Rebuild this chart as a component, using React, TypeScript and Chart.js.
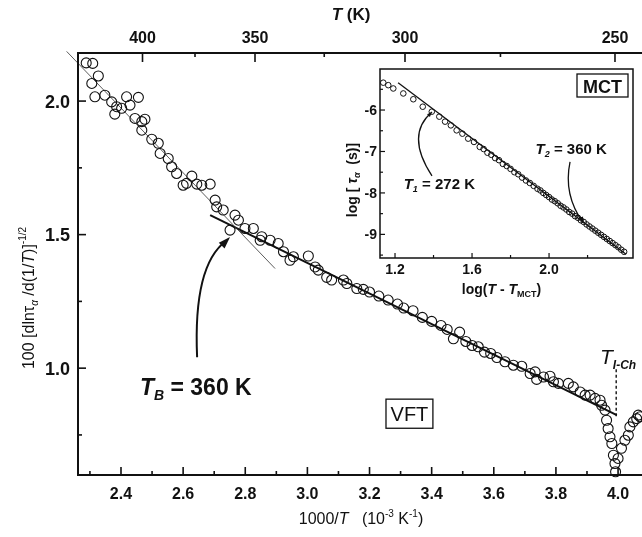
import React, { useEffect, useRef } from "react";
import { Chart, registerables } from "chart.js";
Chart.register(...registerables);

const FONT = '"Liberation Sans", Arial, Helvetica, sans-serif';
const INK = "#111";

// ---- main panel: x = 1000/T (10^-3 K^-1), y = 100 [dln tau / d(1/T)]^-1/2
const inverseT = [
  2.288, 2.306, 2.309, 2.316, 2.327, 2.348, 2.37, 2.38, 2.386, 2.402, 2.418, 2.429, 2.445, 2.456,
  2.467, 2.467, 2.477, 2.499, 2.52, 2.526, 2.552, 2.563, 2.579, 2.6, 2.611, 2.628, 2.644, 2.66,
  2.687, 2.703, 2.708, 2.729, 2.751, 2.767, 2.778, 2.799, 2.826, 2.848, 2.853, 2.88, 2.906, 2.923,
  2.944, 2.955, 3.003, 3.025, 3.035, 3.062, 3.078, 3.116, 3.127, 3.159,
  3.18, 3.2, 3.23, 3.26, 3.29, 3.31, 3.34, 3.37, 3.4, 3.43, 3.45, 3.47, 3.49, 3.51, 3.53, 3.55,
  3.57, 3.59, 3.61,
  3.636, 3.663, 3.69, 3.717, 3.733, 3.738, 3.76, 3.781, 3.792, 3.808, 3.84, 3.856, 3.878, 3.894,
  3.91, 3.926, 3.942, 3.947, 3.958, 3.963, 3.968, 3.974, 3.98, 3.985, 3.99, 3.992, 4.0, 4.011,
  4.022, 4.033, 4.038, 4.049, 4.06, 4.065, 4.071,
];
const derivative = [
  2.143, 2.066, 2.141, 2.016, 2.094, 2.022, 1.997, 1.951, 1.979, 1.973, 2.016, 1.985, 1.935, 2.014,
  1.923, 1.891, 1.932, 1.857, 1.842, 1.804, 1.785, 1.754, 1.729, 1.685, 1.692, 1.719, 1.689, 1.685,
  1.689, 1.629, 1.604, 1.592, 1.517, 1.573, 1.554, 1.523, 1.523, 1.479, 1.492, 1.479, 1.467, 1.436,
  1.404, 1.417, 1.42, 1.379, 1.367, 1.34, 1.33, 1.33, 1.317, 1.298,
  1.295, 1.285, 1.27, 1.255, 1.24, 1.225, 1.215, 1.19, 1.175, 1.16, 1.145, 1.11, 1.135, 1.1, 1.085, 1.08,
  1.06, 1.055, 1.04,
  1.024, 1.011, 1.007, 0.98, 0.986, 0.958, 0.967, 0.97, 0.949, 0.943, 0.943, 0.93, 0.911, 0.899,
  0.899, 0.887, 0.88, 0.861, 0.843, 0.805, 0.774, 0.743, 0.718, 0.674, 0.643, 0.612, 0.662, 0.7,
  0.73, 0.749, 0.78, 0.799, 0.811, 0.824, 0.818,
];

const fitHighX = [2.225, 2.896];
const fitHighY = [2.186, 1.373];
const fitLowX = [2.687, 3.996];
const fitLowY = [1.573, 0.824];

const bottomMajor = [2.4, 2.6, 2.8, 3.0, 3.2, 3.4, 3.6, 3.8, 4.0];
const bottomMinor = [2.3, 2.5, 2.7, 2.9, 3.1, 3.3, 3.5, 3.7, 3.9, 4.1];
const leftMajor = [1.0, 1.5, 2.0];
const leftMinor = [0.75, 1.25, 1.75];
const topMajorK = [400, 350, 300, 250];
const topMinorK = [375, 325, 275];

// ---- inset: x = log(T - T_MCT), y = log tau_alpha (s)
const insetLogX = [
  1.139, 1.165, 1.191, 1.243, 1.295, 1.344, 1.391, 1.43, 1.46, 1.49, 1.52, 1.55, 1.58, 1.61, 1.64,
  1.66, 1.68, 1.7, 1.72, 1.74, 1.76, 1.78, 1.8, 1.82, 1.84, 1.86, 1.88, 1.9, 1.92, 1.94, 1.955, 1.97,
  1.985, 2.0, 2.015, 2.03, 2.045, 2.06, 2.075, 2.09, 2.105, 2.12, 2.135, 2.15, 2.165, 2.18, 2.195,
  2.21, 2.225, 2.24, 2.255, 2.27, 2.285, 2.3, 2.315, 2.33, 2.345, 2.36, 2.375, 2.39,
];
const insetLogTau = [
  -5.34, -5.4, -5.48, -5.6, -5.74, -5.92, -6.04, -6.16, -6.28, -6.37, -6.49, -6.57, -6.69, -6.77, -6.89,
  -6.94, -7.03, -7.08, -7.16, -7.21, -7.3, -7.35, -7.42, -7.5, -7.55, -7.63, -7.7, -7.76, -7.83, -7.9, -7.94, -8.0,
  -8.05, -8.1, -8.16, -8.2, -8.25, -8.31, -8.35, -8.4, -8.46, -8.5, -8.56, -8.6, -8.66, -8.7, -8.76,
  -8.81, -8.86, -8.91, -8.96, -9.01, -9.06, -9.11, -9.16, -9.21, -9.26, -9.31, -9.37, -9.42,
];
const insetFitX = [1.216, 2.4];
const insetFitY = [-5.342, -9.478];
const insetXMajor = [1.2, 1.6, 2.0];
const insetXMinor = [1.4, 1.8, 2.2];
const insetYMajor = [-6, -7, -8, -9];
const insetYMinor = [-5.5, -6.5, -7.5, -8.5, -9.5];

type Part = { t: string; size: number; bold?: boolean; italic?: boolean; dy?: number };

function fontOf(p: Part) {
  return `${p.italic ? "italic " : ""}${p.bold ? "bold " : ""}${p.size}px ${FONT}`;
}

function rich(ctx: CanvasRenderingContext2D, x: number, y: number, parts: Part[], align = "left") {
  let total = 0;
  const ws = parts.map((p) => {
    ctx.font = fontOf(p);
    const w = ctx.measureText(p.t).width;
    total += w;
    return w;
  });
  let cx = align === "left" ? x : align === "center" ? x - total / 2 : x - total;
  ctx.textAlign = "left";
  ctx.textBaseline = "alphabetic";
  parts.forEach((p, i) => {
    ctx.font = fontOf(p);
    ctx.fillText(p.t, cx, y + (p.dy || 0));
    cx += ws[i];
  });
}

function line(ctx: CanvasRenderingContext2D, x1: number, y1: number, x2: number, y2: number) {
  ctx.beginPath();
  ctx.moveTo(x1, y1);
  ctx.lineTo(x2, y2);
  ctx.stroke();
}

function arrowHead(ctx: CanvasRenderingContext2D, tx: number, ty: number, fx: number, fy: number, len: number, half: number) {
  const dx = tx - fx, dy = ty - fy;
  const d = Math.hypot(dx, dy) || 1;
  const ux = dx / d, uy = dy / d;
  ctx.beginPath();
  ctx.moveTo(tx, ty);
  ctx.lineTo(tx - ux * len - uy * half, ty - uy * len + ux * half);
  ctx.lineTo(tx - ux * len + uy * half, ty - uy * len - ux * half);
  ctx.closePath();
  ctx.fill();
}

const mainDecor = {
  id: "mainDecor",
  afterDraw(chart: any) {
    const { ctx, chartArea: a } = chart;
    const sx = chart.scales.x, sy = chart.scales.y, st = chart.scales.x2;
    const X = (v: number) => sx.getPixelForValue(v);
    const Y = (v: number) => sy.getPixelForValue(v);
    ctx.save();
    ctx.strokeStyle = INK;
    ctx.fillStyle = INK;
    ctx.lineWidth = 2;
    ctx.strokeRect(a.left, a.top, a.right - a.left, a.bottom - a.top);
    ctx.lineWidth = 1.6;
    bottomMajor.forEach((v) => line(ctx, X(v), a.bottom, X(v), a.bottom - 8));
    bottomMinor.forEach((v) => line(ctx, X(v), a.bottom, X(v), a.bottom - 4));
    leftMajor.forEach((v) => line(ctx, a.left, Y(v), a.left + 8, Y(v)));
    leftMinor.forEach((v) => line(ctx, a.left, Y(v), a.left + 4, Y(v)));
    topMajorK.forEach((k) => { const p = st.getPixelForValue(1000 / k); line(ctx, p, a.top, p, a.top + 9); });
    topMinorK.forEach((k) => { const p = st.getPixelForValue(1000 / k); line(ctx, p, a.top, p, a.top + 4); });

    // tick labels
    ctx.textBaseline = "alphabetic";
    ctx.font = `bold 16px ${FONT}`;
    ctx.textAlign = "center";
    bottomMajor.forEach((v) => ctx.fillText(v.toFixed(1), X(v), a.bottom + 24));
    topMajorK.forEach((k) => ctx.fillText(String(k), st.getPixelForValue(1000 / k), a.top - 10));
    ctx.font = `bold 18px ${FONT}`;
    ctx.textAlign = "right";
    leftMajor.forEach((v) => ctx.fillText(v.toFixed(1), a.left - 8, Y(v) + 6.5));

    // axis titles
    rich(ctx, 351, 20, [
      { t: "T", size: 17, bold: true, italic: true },
      { t: " (K)", size: 17, bold: true },
    ], "center");
    rich(ctx, 361, 524, [
      { t: "1000/", size: 16 },
      { t: "T", size: 16, italic: true },
      { t: "   (10", size: 16 },
      { t: "-3", size: 10, dy: -7 },
      { t: " K", size: 16 },
      { t: "-1", size: 10, dy: -7 },
      { t: ")", size: 16 },
    ], "center");
    ctx.save();
    ctx.translate(28, 298);
    ctx.rotate(-Math.PI / 2);
    rich(ctx, 0, 5.5, [
      { t: "100 [dln", size: 16 },
      { t: "τ", size: 16 },
      { t: "α", size: 10, italic: true, dy: 4 },
      { t: " /d(1/", size: 16 },
      { t: "T", size: 16, italic: true },
      { t: ")]", size: 16 },
      { t: "-1/2", size: 10, dy: -8 },
    ], "center");
    ctx.restore();

    // T_B annotation
    rich(ctx, X(2.461), Y(0.9), [
      { t: "T", size: 23, bold: true, italic: true },
      { t: "B", size: 14, bold: true, italic: true, dy: 5 },
      { t: " = 360 K", size: 23, bold: true },
    ]);
    ctx.lineWidth = 2;
    const s0 = [X(2.645), Y(1.041)], c0 = [X(2.632), Y(1.386)], e0 = [X(2.751), Y(1.491)];
    ctx.beginPath();
    ctx.moveTo(s0[0], s0[1]);
    ctx.quadraticCurveTo(c0[0], c0[1], e0[0] - 4, e0[1] + 4);
    ctx.stroke();
    arrowHead(ctx, e0[0], e0[1], c0[0], c0[1] + 10, 12, 4);

    // VFT box
    const bl = X(3.253), br = X(3.404), bt = Y(0.884), bb = Y(0.775);
    ctx.lineWidth = 1.3;
    ctx.strokeRect(bl, bt, br - bl, bb - bt);
    rich(ctx, (bl + br) / 2, bb - 7, [{ t: "VFT", size: 20 }], "center");

    // T_I-Ch
    rich(ctx, X(3.942), Y(1.015), [
      { t: "T", size: 21, italic: true },
      { t: "I-Ch", size: 12, italic: true, bold: true, dy: 5 },
    ]);
    ctx.lineWidth = 1.4;
    ctx.setLineDash([3, 2.5]);
    line(ctx, X(3.994), Y(0.996), X(3.994), Y(0.813));
    ctx.setLineDash([]);
    ctx.restore();
  },
};

const insetDecor = {
  id: "insetDecor",
  afterDraw(chart: any) {
    const { ctx, chartArea: a } = chart;
    const sx = chart.scales.x, sy = chart.scales.y;
    const X = (v: number) => sx.getPixelForValue(v);
    const Y = (v: number) => sy.getPixelForValue(v);
    ctx.save();
    ctx.strokeStyle = INK;
    ctx.fillStyle = INK;
    ctx.lineWidth = 1.5;
    ctx.strokeRect(a.left, a.top, a.right - a.left, a.bottom - a.top);
    ctx.lineWidth = 1.2;
    insetXMajor.forEach((v) => line(ctx, X(v), a.bottom, X(v), a.bottom - 5));
    insetXMinor.forEach((v) => line(ctx, X(v), a.bottom, X(v), a.bottom - 3));
    insetYMajor.forEach((v) => line(ctx, a.left, Y(v), a.left + 5, Y(v)));
    insetYMinor.forEach((v) => { const p = Y(v); if (p > a.top && p < a.bottom) line(ctx, a.left, p, a.left + 3, p); });

    ctx.font = `bold 14px ${FONT}`;
    ctx.textAlign = "right";
    ctx.textBaseline = "alphabetic";
    insetYMajor.forEach((v) => ctx.fillText(String(v), a.left - 3, Y(v) + 5));
    ctx.textAlign = "center";
    insetXMajor.forEach((v) => ctx.fillText(v.toFixed(1), X(v), a.bottom + 16));

    rich(ctx, (a.left + a.right) / 2 - 5, a.bottom + 36, [
      { t: "log(", size: 14, bold: true },
      { t: "T", size: 14, bold: true, italic: true },
      { t: " - ", size: 14, bold: true },
      { t: "T", size: 14, bold: true, italic: true },
      { t: "MCT", size: 9, bold: true, dy: 3 },
      { t: ")", size: 14, bold: true },
    ], "center");
    ctx.save();
    ctx.translate(22, 180 - 55);
    ctx.rotate(-Math.PI / 2);
    rich(ctx, 0, 5, [
      { t: "log [ ", size: 14, bold: true },
      { t: "τ", size: 14, bold: true, italic: true },
      { t: "α", size: 9, bold: true, italic: true, dy: 3 },
      { t: "  (s)]", size: 14, bold: true },
    ], "center");
    ctx.restore();

    // MCT box
    ctx.lineWidth = 1.3;
    const mx0 = a.right - 56, my0 = a.top + 5;
    ctx.strokeRect(mx0, my0, 51, 23);
    rich(ctx, mx0 + 25.5, my0 + 18.5, [{ t: "MCT", size: 18, bold: true }], "center");

    // T1
    rich(ctx, X(1.245), Y(-7.9), [
      { t: "T", size: 15, bold: true, italic: true },
      { t: "1", size: 9, bold: true, italic: true, dy: 3 },
      { t: " = 272 K", size: 15, bold: true },
    ]);
    ctx.lineWidth = 1.3;
    const s1 = [X(1.392), Y(-7.59)], c1 = [X(1.252), Y(-6.6)], e1 = [X(1.392), Y(-6.05)];
    ctx.beginPath();
    ctx.moveTo(s1[0], s1[1]);
    ctx.quadraticCurveTo(c1[0], c1[1], e1[0], e1[1]);
    ctx.stroke();
    arrowHead(ctx, e1[0], e1[1], e1[0] - 6, e1[1] + 6, 5, 2);

    // T2
    rich(ctx, X(1.93), Y(-7.06), [
      { t: "T", size: 15, bold: true, italic: true },
      { t: "2", size: 9, bold: true, italic: true, dy: 3 },
      { t: " = 360 K", size: 15, bold: true },
    ]);
    const s2 = [X(2.109), Y(-7.253)], c2 = [X(2.073), Y(-8.05)], e2 = [X(2.177), Y(-8.72)];
    ctx.beginPath();
    ctx.moveTo(s2[0], s2[1]);
    ctx.quadraticCurveTo(c2[0], c2[1], e2[0], e2[1]);
    ctx.stroke();
    arrowHead(ctx, e2[0], e2[1], e2[0] - 3, e2[1] - 8, 6, 2.2);
    ctx.restore();
  },
};

export default function App() {
  const mainRef = useRef<HTMLCanvasElement>(null);
  const insetRef = useRef<HTMLCanvasElement>(null);

  useEffect(() => {
    const pts = inverseT.map((x, i) => ({ x, y: derivative[i] }));
    const high = fitHighX.map((x, i) => ({ x, y: fitHighY[i] }));
    const low = fitLowX.map((x, i) => ({ x, y: fitLowY[i] }));
    const main = new Chart(mainRef.current!, {
      type: "scatter",
      data: {
        datasets: [
          {
            data: pts, showLine: false, pointRadius: 5, pointBorderWidth: 1.1,
            pointBorderColor: INK, pointBackgroundColor: "rgba(255,255,255,0)", clip: false,
          } as any,
          {
            data: high, showLine: true, borderWidth: 0.8, borderColor: "#333",
            pointRadius: 0, clip: false,
          } as any,
          {
            data: low, showLine: true, borderWidth: 2, borderColor: INK, pointRadius: 0,
          } as any,
        ],
      },
      options: {
        animation: false,
        responsive: false,
        devicePixelRatio: 1,
        events: [],
        layout: { padding: { left: 0, right: 20, top: 0, bottom: 0 } },
        plugins: { legend: { display: false }, tooltip: { enabled: false } },
        scales: {
          x: {
            type: "linear", position: "bottom", min: 2.2616, max: 4.135,
            grid: { display: false }, border: { display: false }, ticks: { display: false },
            afterFit: (s: any) => { s.height = 62; },
          },
          x2: {
            type: "linear", position: "top", min: 2.2952, max: 4.1429,
            grid: { display: false }, border: { display: false }, ticks: { display: false },
            afterFit: (s: any) => { s.height = 53; },
          },
          y: {
            type: "linear", min: 0.6, max: 2.18,
            grid: { display: false }, border: { display: false }, ticks: { display: false },
            afterFit: (s: any) => { s.width = 78; },
          },
        },
      } as any,
      plugins: [mainDecor],
    });

    const ipts = insetLogX.map((x, i) => ({ x, y: insetLogTau[i] }));
    const ifit = insetFitX.map((x, i) => ({ x, y: insetFitY[i] }));
    const inset = new Chart(insetRef.current!, {
      type: "scatter",
      data: {
        datasets: [
          {
            data: ipts, showLine: false, pointRadius: 2.8, pointBorderWidth: 1,
            pointBorderColor: INK, pointBackgroundColor: "rgba(255,255,255,0)",
          } as any,
          {
            data: ifit, showLine: true, borderWidth: 1.3, borderColor: INK, pointRadius: 0,
          } as any,
        ],
      },
      options: {
        animation: false,
        responsive: false,
        devicePixelRatio: 1,
        events: [],
        layout: { padding: { left: 0, right: 9, top: 14, bottom: 0 } },
        plugins: { legend: { display: false }, tooltip: { enabled: false } },
        scales: {
          x: {
            type: "linear", min: 1.122, max: 2.436,
            grid: { display: false }, border: { display: false }, ticks: { display: false },
            afterFit: (s: any) => { s.height = 57; },
          },
          y: {
            type: "linear", min: -9.57, max: -5.01,
            grid: { display: false }, border: { display: false }, ticks: { display: false },
            afterFit: (s: any) => { s.width = 50; },
          },
        },
      } as any,
      plugins: [insetDecor],
    });

    return () => {
      main.destroy();
      inset.destroy();
    };
  }, []);

  return (
    <div style={{ position: "fixed", left: 0, top: 0, width: 642, height: 537, overflow: "hidden", background: "#fff" }}>
      <canvas ref={mainRef} width={680} height={537} style={{ position: "absolute", left: 0, top: 0, width: 680, height: 537 }} />
      <canvas ref={insetRef} width={312} height={260} style={{ position: "absolute", left: 330, top: 55, width: 312, height: 260 }} />
    </div>
  );
}
